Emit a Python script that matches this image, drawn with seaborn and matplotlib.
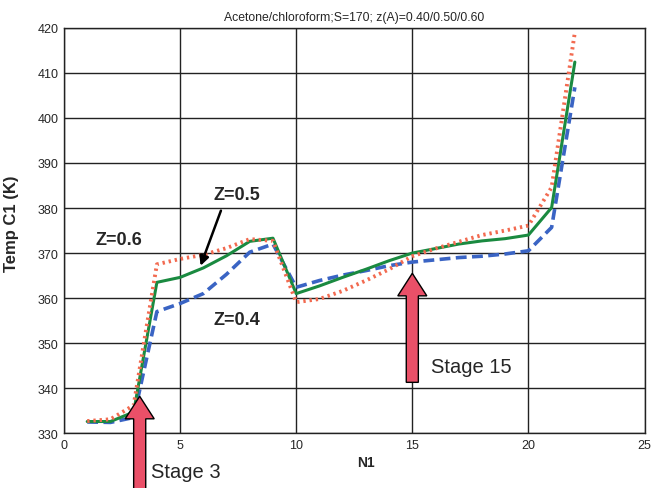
import numpy as np
import pandas as pd
import matplotlib
matplotlib.use("Agg")
import matplotlib.pyplot as plt
import seaborn as sns
from matplotlib.patches import FancyArrow

stages = list(range(1, 23))
z04 = [332.5, 332.4, 333.5, 357.0, 358.8, 361.0, 365.3, 370.2, 372.0, 362.4, 363.9, 365.1,
       366.1, 367.2, 368.0, 368.5, 369.0, 369.3, 369.8, 370.5, 375.7, 406.8]
z05 = [332.6, 332.6, 334.7, 363.5, 364.6, 366.7, 369.4, 372.6, 373.3, 361.0, 362.7, 364.6,
       366.4, 368.3, 370.0, 371.0, 372.0, 372.7, 373.2, 374.0, 380.1, 412.4]
z06 = [332.7, 333.1, 336.2, 367.5, 368.7, 369.6, 371.1, 373.1, 372.7, 359.1, 359.8, 361.6,
       363.9, 366.4, 369.3, 371.0, 372.5, 374.0, 375.0, 376.1, 384.6, 419.0]

title = "Acetone/chloroform;S=170; z(A)=0.40/0.50/0.60"

df = pd.DataFrame({"N1": stages, "z04": z04, "z05": z05, "z06": z06})

sns.set_style("white")
plt.rcParams['font.family'] = ['Liberation Sans', 'DejaVu Sans']

fig = plt.figure(figsize=(6.53, 4.89), dpi=100)
ax = fig.add_axes([0.098, 0.112, 0.889, 0.829])

sns.lineplot(data=df, x="N1", y="z04", ax=ax, color="#3a64c4", lw=2.6,
             linestyle=(0, (3, 1.5)))
sns.lineplot(data=df, x="N1", y="z05", ax=ax, color="#1a8a40", lw=2.2)
sns.lineplot(data=df, x="N1", y="z06", ax=ax, color="#f26a50", lw=2.8,
             linestyle=(0, (0.6, 1.0)))

ax.set_xlim(0, 25)
ax.set_ylim(330, 420)
ax.set_xticks(range(0, 26, 5))
ax.set_yticks(range(330, 421, 10))
ax.grid(True, color="#222222", lw=1.0)
ax.set_axisbelow(True)
for s in ax.spines.values():
    s.set_color("#222222")
    s.set_linewidth(1.0)
ax.tick_params(labelsize=9, length=0, pad=4)
ax.set_xlabel("N1", fontsize=10, fontweight="bold")
ax.xaxis.set_label_coords(0.52, -0.053)
ax.set_ylabel("Temp C1 (K)", fontsize=12, fontweight="bold")
ax.yaxis.set_label_coords(-0.078, 0.52)
ax.set_title(title, fontsize=8.8, pad=6)

ax.text(2.35, 373, "Z=0.6", fontsize=13, fontweight="bold", ha="center", va="center")
ax.text(7.45, 382.9, "Z=0.5", fontsize=13, fontweight="bold", ha="center", va="center")
ax.text(7.45, 355.3, "Z=0.4", fontsize=13, fontweight="bold", ha="center", va="center")
ax.annotate("", xy=(5.84, 366.6), xytext=(6.8, 380.0),
            arrowprops=dict(arrowstyle="-|>", color="black", lw=1.8, mutation_scale=14))

for (x0, y0, y1) in [(3.26, 317.5, 338.2), (15.0, 341.3, 365.5)]:
    arr = FancyArrow(x0, y0, 0, y1 - y0, width=0.52, head_width=1.25, head_length=5.0,
                     length_includes_head=True, facecolor="#ea5068", edgecolor="black",
                     lw=1.0, clip_on=False, zorder=5)
    ax.add_patch(arr)

ax.text(3.75, 321.5, "Stage 3", fontsize=14.5, ha="left", va="center", clip_on=False)
ax.text(15.8, 344.9, "Stage 15", fontsize=14.5, ha="left", va="center")

fig.savefig("out.png", dpi=100)
